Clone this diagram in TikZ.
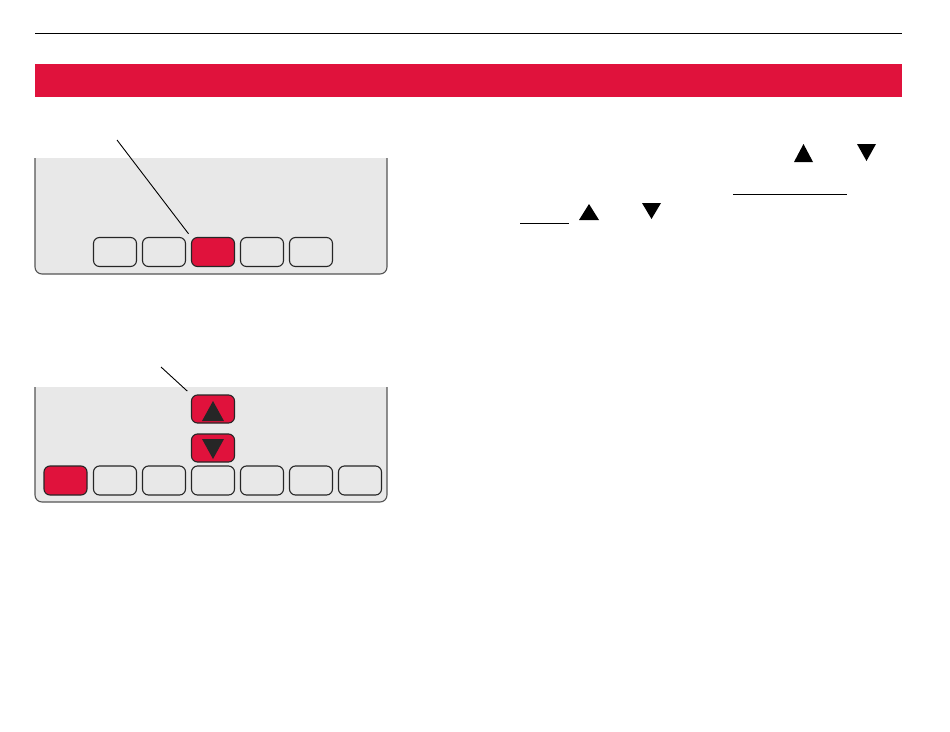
\documentclass[tikz,border=0pt]{standalone}
\usetikzlibrary{positioning}

\definecolor{hwred}{HTML}{E0123C}
\definecolor{lcdgray}{HTML}{E8E8E8}
\definecolor{rimgray}{HTML}{555555}

\tikzset{
  key/.style={draw=black!85,line width=1.1pt,rounded corners=6pt,inner sep=0pt,
    minimum width=43pt,minimum height=29pt,fill=lcdgray},
  keyon/.style={key,fill=hwred},
  lead/.style={line width=0.9pt,black}
}

\begin{document}
\begin{tikzpicture}[x=1pt,y=-1pt]
  \useasboundingbox (0,0) rectangle (950,731);

  % header rule and title bar
  \draw[line width=0.9pt] (35,33) -- (902,33);
  \fill[hwred] (35,64) rectangle (902,97);

  % first display
  \fill[lcdgray,rounded corners=7pt] (35,158) -- (35,274) -- (387,274) -- (387,158) -- cycle;
  \fill[lcdgray] (35,158) rectangle (387,170);
  \draw[rimgray,line width=1.1pt,rounded corners=7pt] (35,158) -- (35,274) -- (387,274) -- (387,158);

  \foreach \i/\x in {1/115,2/164,4/262,5/311}
    \node[key] (ka\i) at (\x,252) {};
  \node[keyon] (ka3) at (213,252) {};

  \coordinate (pa) at (117,140);
  \draw[lead,shorten >=4pt] (pa) -- (ka3.north west);

  % second display
  \fill[lcdgray,rounded corners=7pt] (35,387) -- (35,502) -- (387,502) -- (387,387) -- cycle;
  \fill[lcdgray] (35,387) rectangle (387,400);
  \draw[rimgray,line width=1.1pt,rounded corners=7pt] (35,387) -- (35,502) -- (387,502) -- (387,387);

  \node[keyon] (kb1) at (65.5,480.5) {};
  \foreach \i/\x in {2/115,3/164,4/213,5/262,6/311,7/360}
    \node[key] (kb\i) at (\x,480.5) {};

  \node[keyon,minimum height=28pt] (up) at (213,409) {};
  \node[keyon,minimum height=28pt] (down) at (213,448) {};
  \fill[black!85] (202,421) -- (224,421) -- (213,401) -- cycle;
  \fill[black!85] (202,439) -- (224,439) -- (213,459) -- cycle;

  \coordinate (pb) at (161,367);
  \draw[lead,shorten >=5pt] (pb) -- (up.north west);

  % arrows in the text column
  \fill (794,162) -- (813,162) -- (803.5,144) -- cycle;
  \fill (857,144) -- (876,144) -- (866.5,161) -- cycle;
  \draw[line width=0.9pt] (733,194) -- (847,194);

  \draw[line width=0.9pt] (520,223) -- (569,223);
  \fill (579,220) -- (599,220) -- (589,204) -- cycle;
  \fill (642,203) -- (661,203) -- (651.5,219) -- cycle;

\end{tikzpicture}
\end{document}
